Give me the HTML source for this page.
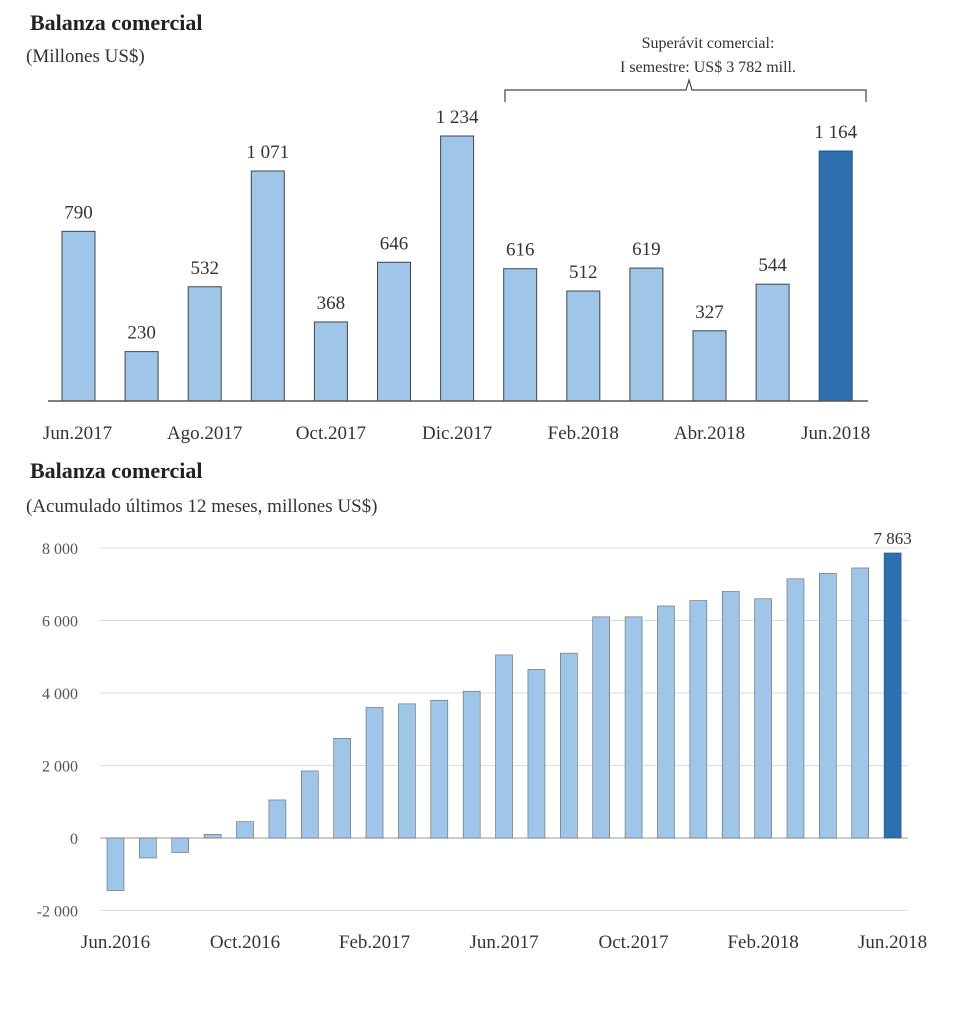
<!DOCTYPE html>
<html><head><meta charset="utf-8"><style>
body{margin:0;background:#fff;width:980px;height:1016px;overflow:hidden;font-family:"Liberation Serif",serif}
svg text{font-family:"Liberation Serif",serif}
</style></head><body>
<svg id="c" width="980" height="1016">
<text x="30" y="30" font-size="22" font-weight="bold" fill="#222">Balanza comercial</text>
<text x="26" y="62" font-size="19" fill="#333">(Millones US$)</text>
<text x="708" y="48" font-size="16" text-anchor="middle" fill="#333">Superávit comercial:</text>
<text x="708" y="72" font-size="16" text-anchor="middle" fill="#333">I semestre: US$ 3 782 mill.</text>
<path d="M505,102 V90 H686 L689,80 L692,90 H866 V102" fill="none" stroke="#444" stroke-width="1.2"/>
<text x="30" y="478" font-size="22" font-weight="bold" fill="#222">Balanza comercial</text>
<text x="26" y="512" font-size="19" fill="#333">(Acumulado últimos 12 meses, millones US$)</text>
<g id="top"></g><g id="bot"></g>
</svg>
<script>
const topCats=["Jun.2017","Jul.2017","Ago.2017","Sep.2017","Oct.2017","Nov.2017","Dic.2017","Ene.2018","Feb.2018","Mar.2018","Abr.2018","May.2018","Jun.2018"];
const topVals=[790,230,532,1071,368,646,1234,616,512,619,327,544,1164];
const topLabels=["790","230","532","1 071","368","646","1 234","616","512","619","327","544","1 164"];
const botCats=["Jun.2016","Jul.2016","Ago.2016","Sep.2016","Oct.2016","Nov.2016","Dic.2016","Ene.2017","Feb.2017","Mar.2017","Abr.2017","May.2017","Jun.2017","Jul.2017","Ago.2017","Sep.2017","Oct.2017","Nov.2017","Dic.2017","Ene.2018","Feb.2018","Mar.2018","Abr.2018","May.2018","Jun.2018"];
const botVals=[-1450,-550,-400,100,450,1050,1850,2750,3600,3700,3800,4050,5050,4650,5100,6100,6100,6400,6550,6800,6600,7150,7300,7450,7863];
const botTicks=[-2000,0,2000,4000,6000,8000];
const botTickLabels=["-2 000","0","2 000","4 000","6 000","8 000"];
const NS="http://www.w3.org/2000/svg";
function mk(p,t,a){const e=document.createElementNS(NS,t);for(const k in a)e.setAttribute(k,a[k]);p.appendChild(e);return e;}
// top chart
const gt=document.getElementById('top');
const tBase=401,tScale=265/1234,tX=i=>78.5+i*63.1,tY=v=>tBase-v*tScale;
topCats.forEach((c,i)=>{
 const last=i===topCats.length-1;
 const r=mk(gt,'rect',{x:tX(i)-16.5,y:tY(topVals[i]),width:33,height:tBase-tY(topVals[i]),fill:last?'#2e6fb0':'#9fc5e8',stroke:last?'#1f4f80':'#444','stroke-width':1});
 
 
 const t=mk(gt,'text',{x:tX(i),y:tY(topVals[i])-13,'font-size':19,'text-anchor':'middle',fill:'#333'});t.textContent=topLabels[i];
 
 
 if(i%2===0){const l=mk(gt,'text',{x:tX(i)+(i===0?-1:0),y:439,'font-size':19,'text-anchor':'middle',fill:'#333'});l.textContent=c;
 
 }
});
const ta=mk(gt,'line',{x1:48,x2:868,y1:tBase,y2:tBase,stroke:'#555','stroke-width':1.5});


// bottom chart
const gb=document.getElementById('bot');
const bZero=838,bScale=290/8000,bX=i=>115.5+i*32.38,bY=v=>bZero-v*bScale;
botTicks.forEach((v,k)=>{
 const l=mk(gb,'line',{x1:100,x2:908,y1:bY(v),y2:bY(v),stroke:v===0?'#999':'#ddd','stroke-width':1});
 
 
 const t=mk(gb,'text',{x:78,y:bY(v)+6,'font-size':16,'text-anchor':'end',fill:'#555','font-family':'Liberation Sans, sans-serif'});t.textContent=botTickLabels[k];
 
 
});
botCats.forEach((c,i)=>{
 const v=botVals[i],last=i===botCats.length-1;
 const y=Math.min(bY(v),bZero),h=Math.abs(bY(v)-bZero);
 const r=mk(gb,'rect',{x:bX(i)-8.5,y:y,width:17,height:h,fill:last?'#2e6fb0':'#9fc5e8',stroke:last?'#1f4f80':'#666','stroke-width':0.6});
 
 
 if(i%4===0){const l=mk(gb,'text',{x:bX(i),y:948,'font-size':19,'text-anchor':'middle',fill:'#333'});l.textContent=c;
 
 }
});
const lv=mk(gb,'text',{x:bX(24),y:bY(botVals[24])-9,'font-size':17,'text-anchor':'middle',fill:'#333','font-family':'Liberation Sans, sans-serif'});
lv.textContent="7 863";


</script>
</body></html>
